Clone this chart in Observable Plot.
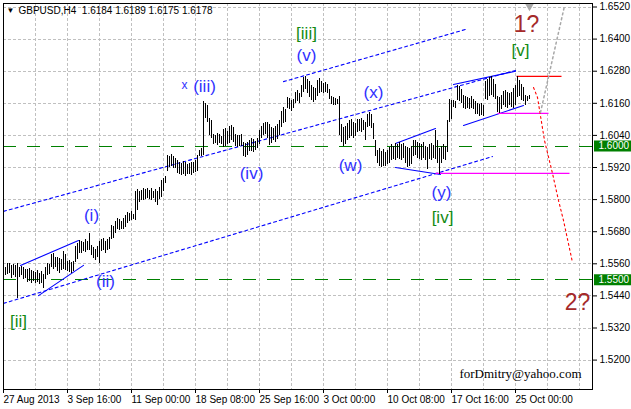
<!DOCTYPE html>
<html><head><meta charset="utf-8">
<script src="https://cdn.jsdelivr.net/npm/d3@7"></script>
<script src="https://cdn.jsdelivr.net/npm/@observablehq/plot@0.6"></script>
<style>body{margin:0;background:#fff}</style>
</head><body><div id="chart"></div>
<script>
// H4 bars, left to right (one entry per bar)
const highs = [
1.5548,1.5560,1.5562,1.5555,1.5558,1.5552,1.5560,1.5545,
1.5550,1.5546,1.5540,1.5538,1.5542,1.5535,1.5530,
1.5528,1.5535,1.5525,1.5530,1.5520,
1.5545,1.5561,1.5558,1.5595,1.5598,1.5585,1.5583,1.5580,1.5575,
1.5605,1.5595,1.5570,1.5572,1.5565,1.5568,
1.5625,1.5635,1.5648,1.5645,1.5640,1.5650,1.5642,1.5673,
1.5630,1.5620,1.5615,1.5625,1.5645,
1.5650,1.5655,1.5645,1.5650,1.5660,
1.5705,1.5700,1.5720,1.5730,1.5725,1.5720,1.5728,1.5740,
1.5750,1.5748,1.5755,1.5745,1.5832,1.5838,
1.5830,1.5835,1.5840,1.5838,1.5842,1.5835,1.5840,1.5832,1.5838,1.5830,1.5845,
1.5870,1.5880,1.5885,
1.5965,1.5962,1.5968,1.5960,1.5955,
1.5945,1.5940,1.5935,1.5942,1.5938,1.5930,1.5935,1.5940,1.5938,1.5945,
1.5965,1.5985,1.5990,1.6167,
1.6160,1.6150,1.6105,1.6095,
1.6045,1.6040,1.6048,1.6042,1.6035,
1.6062,1.6065,1.6055,1.6075,1.6078,1.6068,
1.6045,1.6040,1.6038,1.6042,
1.6012,1.6008,1.6015,
1.6020,1.6028,1.6025,1.6018,1.6030,
1.6060,1.6075,1.6085,1.6090,1.6088,
1.6080,1.6070,1.6065,1.6072,1.6080,1.6095,
1.6130,1.6145,1.6135,
1.6182,1.6178,1.6170,1.6175,
1.6200,1.6208,1.6195,1.6225,
1.6255,1.6262,1.6250,
1.6240,1.6228,1.6220,1.6215,
1.6245,1.6252,1.6240,
1.6235,1.6238,1.6232,
1.6210,1.6185,1.6180,1.6178,1.6175,
1.6185,1.6080,1.6070,1.6075,1.6085,
1.6095,1.6100,1.6090,1.6085,
1.6100,1.6098,1.6103,1.6095,1.6088,
1.6120,1.6125,1.6118,1.6085,1.6020,
1.5985,1.5990,1.5980,1.5988,1.5975,1.5985,1.5995,
1.6005,1.6000,1.6010,1.6005,1.6015,
1.6005,1.6010,
1.6000,1.5995,1.5990,1.5998,
1.6020,1.6022,1.6015,
1.6010,1.6005,1.6012,1.6000,1.5995,
1.6005,1.6010,1.6002,1.6058,1.6020,1.5990,
1.6000,1.6005,1.6000,1.6095,1.6175,1.6170,
1.6172,1.6165,1.6225,1.6222,1.6210,
1.6190,1.6185,1.6180,1.6178,1.6185,1.6175,
1.6165,1.6160,1.6155,1.6160,1.6150,
1.6240,1.6248,1.6255,1.6260,1.6250,1.6230,
1.6185,1.6180,1.6190,
1.6205,1.6208,1.6200,1.6195,1.6200,
1.6215,1.6225,1.6262,1.6245,1.6230,1.6220,1.6190,1.6185,1.6189
];
const lows = [
1.5515,1.5520,1.5525,1.5505,1.5518,1.5510,1.5430,1.5508,
1.5515,1.5500,1.5505,1.5490,1.5495,1.5488,1.5492,
1.5485,1.5490,1.5482,1.5488,1.5468,
1.5500,1.5515,1.5520,1.5548,1.5540,1.5545,1.5530,1.5525,1.5535,
1.5540,1.5535,1.5530,1.5528,1.5525,1.5530,
1.5565,1.5575,1.5600,1.5598,1.5605,1.5602,1.5610,1.5610,
1.5590,1.5578,1.5572,1.5585,1.5560,
1.5605,1.5610,1.5600,1.5608,1.5615,
1.5650,1.5655,1.5675,1.5690,1.5685,1.5688,1.5690,1.5695,
1.5710,1.5720,1.5722,1.5725,1.5722,1.5760,
1.5790,1.5798,1.5795,1.5800,1.5805,1.5800,1.5798,1.5805,1.5790,1.5778,1.5800,
1.5808,1.5830,1.5860,
1.5905,1.5920,1.5925,1.5918,1.5915,
1.5898,1.5892,1.5890,1.5895,1.5888,1.5892,1.5895,1.5890,1.5898,1.5900,
1.5905,1.5960,1.5962,1.5965,
1.6105,1.6090,1.6040,1.6030,
1.6005,1.6010,1.6002,1.6008,1.6005,
1.5995,1.6000,1.6005,1.6010,1.6020,1.6015,
1.6000,1.5995,1.6000,1.5998,
1.5960,1.5958,1.5965,
1.5978,1.5980,1.5975,1.5985,1.5990,
1.6005,1.6030,1.6040,1.6045,1.6030,
1.6002,1.6010,1.6020,1.6015,1.6025,1.6040,
1.6070,1.6085,1.6090,
1.6140,1.6135,1.6130,1.6140,
1.6160,1.6165,1.6158,1.6180,
1.6200,1.6210,1.6195,
1.6180,1.6170,1.6163,1.6170,
1.6185,1.6195,1.6200,
1.6198,1.6200,1.6195,
1.6175,1.6155,1.6150,1.6152,1.6155,
1.6040,1.6015,1.6000,1.6005,1.6020,
1.6030,1.6035,1.6028,1.6035,
1.6050,1.6055,1.6052,1.6058,1.6020,
1.6070,1.6075,1.6065,1.6025,1.5962,
1.5935,1.5925,1.5920,1.5925,1.5922,1.5930,1.5935,
1.5945,1.5950,1.5945,1.5955,1.5950,
1.5948,1.5955,
1.5935,1.5920,1.5925,1.5930,
1.5960,1.5965,1.5955,
1.5950,1.5948,1.5955,1.5945,1.5912,
1.5950,1.5945,1.5955,1.5950,1.5935,1.5895,
1.5935,1.5950,1.5945,1.5975,1.6090,1.6100,
1.6145,1.6140,1.6170,1.6165,1.6160,
1.6140,1.6135,1.6140,1.6138,1.6142,1.6135,
1.6120,1.6118,1.6112,1.6115,1.6110,
1.6175,1.6170,1.6185,1.6190,1.6180,1.6175,
1.6125,1.6122,1.6135,
1.6150,1.6145,1.6140,1.6150,1.6145,
1.6140,1.6150,1.6180,1.6185,1.6170,1.6165,1.6152,1.6165,1.6175
];

const titleText = "GBPUSD,H4  1.6184 1.6189 1.6175 1.6178";
const watermark = "forDmitry@yahoo.com";
const priceTicks = [1.5200,1.5320,1.5440,1.5560,1.5680,1.5800,1.5920,1.6040,1.6160,1.6280,1.6400,1.6520];
const dateLabels = ["27 Aug 2013","3 Sep 16:00","11 Sep 00:00","18 Sep 08:00","25 Sep 16:00","3 Oct 00:00","10 Oct 08:00","17 Oct 16:00","25 Oct 00:00"];
const dateBars = [-1,31,63,95,127,159,191,223,255];
const levels = [1.6000, 1.5500];

// wave labels
const waveText  = ["x","(iii)","[iii]","(v)","(x)","(w)","(iv)","(i)","(ii)","[ii]","(y)","[iv]","[v]","1?","2?"];
const waveBar   = [89.5,99.5,150.5,150.5,184,172.5,123,43,50,6.5,218,218.5,257.5,260.5,286];
const wavePrice = [1.6227,1.6223,1.6421,1.6339,1.6200,1.5927,1.5898,1.5741,1.5494,1.5344,1.5827,1.5733,1.6357,1.6455,1.5415];
const waveKind  = ["minor","minor","major","minor","minor","minor","minor","minor","minor","major","minor","major","major","alt","alt"];

// blue dotted channel lines: [bar1, price1, bar2, price2]
const dottedLines = [
  [139, 1.6241, 230, 1.6436],
  [-1, 1.5756, 255, 1.6283],
  [-1, 1.5412, 243.5, 1.5961]
];
// blue solid lines
const solidLines = [
  [7.5, 1.5554, 36.5, 1.5647],
  [16.5, 1.5441, 39, 1.5554],
  [195, 1.6010, 215, 1.6066],
  [195, 1.5920, 217.5, 1.5894],
  [224, 1.6230, 255, 1.6280],
  [229, 1.6077, 259, 1.6152]
];
// horizontal level segments: [bar1, bar2, price]
const redSegments = [[255.5, 278, 1.6261]];
const magentaSegments = [[246, 271.5, 1.6122], [215, 282, 1.5898]];
// forecast path (red dotted)
const forecastBar = [264, 266, 269.5, 273.5, 276.5, 279, 283.5];
const forecastPrice = [1.6219, 1.6182, 1.6021, 1.5898, 1.5797, 1.5722, 1.5565];
// alternative path (grey dotted)
const altBar = [267.5, 279.5];
const altPrice = [1.6126, 1.6524];

const bars = highs.map((h, i) => ({i, high: h, low: lows[i]}));
const waves = waveText.map((t, k) => ({text: t, bar: waveBar[k], price: wavePrice[k], kind: waveKind[k]}));
const toLine = (arr) => arr.flatMap((d, k) => [{k, bar: d[0], price: d[1]}, {k, bar: d[2], price: d[3]}]);
const toSeg = (arr) => arr.map(d => ({x1: d[0], x2: d[1], y: d[2]}));
const forecast = forecastBar.map((b, k) => ({bar: b, price: forecastPrice[k]}));
const alt = altBar.map((b, k) => ({bar: b, price: altPrice[k]}));
const labelMap = new Map(dateBars.map((b, k) => [b, dateLabels[k]]));
const gridBars = d3.range(15, 292, 16);

const colors = {minor: "#3030ff", major: "#138a13", alt: "#a52a2a"};
const sizes = {minor: 17, major: 17, alt: 23};

const chart = Plot.plot({
  width: 631, height: 409,
  marginLeft: 3, marginRight: 39, marginTop: 3, marginBottom: 20,
  style: {fontFamily: "'Liberation Sans', Arial, sans-serif", fontSize: "10px", background: "#fff", overflow: "visible"},
  x: {domain: [-1, 293.5], axis: null},
  y: {domain: [1.50901, 1.65331], axis: null},
  marks: [
    Plot.gridY(priceTicks, {stroke: "#c0c0c0", strokeOpacity: 1, strokeDasharray: "3,2", shapeRendering: "crispEdges"}),
    Plot.gridX(gridBars, {stroke: "#c0c0c0", strokeOpacity: 1, strokeDasharray: "3,2", shapeRendering: "crispEdges"}),
    Plot.ruleY(levels, {stroke: "#008000", strokeDasharray: "13,11", shapeRendering: "crispEdges"}),
    Plot.line(toLine(dottedLines), {x: "bar", y: "price", z: "k", stroke: "#0000ff", strokeDasharray: "3,3", strokeWidth: 1.1}),
    Plot.line(toLine(solidLines), {x: "bar", y: "price", z: "k", stroke: "#0000ff", strokeWidth: 1.1}),
    Plot.link(toSeg(redSegments), {x1: "x1", x2: "x2", y1: "y", y2: "y", stroke: "#ff0000", strokeWidth: 1.2}),
    Plot.link(toSeg(magentaSegments), {x1: "x1", x2: "x2", y1: "y", y2: "y", stroke: "#ff00ff", strokeWidth: 1.2}),
    Plot.ruleX(bars, {x: "i", y1: "low", y2: "high", stroke: "#000", strokeWidth: 1, shapeRendering: "crispEdges"}),
    Plot.line(forecast, {x: "bar", y: "price", stroke: "#ff0000", strokeDasharray: "2,3", strokeWidth: 1.1}),
    Plot.line(alt, {x: "bar", y: "price", stroke: "#a8a8a8", strokeDasharray: "2,3"}),
    Plot.text(waves, {x: "bar", y: "price", text: "text", fill: d => colors[d.kind], fontSize: d => d.text === "x" ? 12 : sizes[d.kind]}),
    Plot.dot([{bar: 262, price: 1.6523}], {x: "bar", y: "price", symbol: "triangle", rotate: 180, r: 3.2, fill: "#a8a8a8", stroke: "none"}),
    Plot.frame({stroke: "#000", shapeRendering: "crispEdges"}),
    Plot.axisY({anchor: "right", ticks: priceTicks, tickFormat: d3.format(".4f"), tickSize: 4, tickPadding: 3, label: null, fontSize: 10, color: "#000"}),
    Plot.axisX({anchor: "bottom", ticks: dateBars, tickFormat: d => labelMap.get(d), tickSize: 4, tickPadding: 2, textAnchor: "start", label: null, fontSize: 10, color: "#000"}),
    Plot.ruleY(levels, {x1: 294.5, x2: 313, stroke: "#008000", strokeWidth: 11}),
    Plot.text(levels, {x: 296.5, y: d => d, text: d3.format(".4f"), textAnchor: "start", fill: "#fff", fontSize: 10}),
    Plot.text([titleText], {frameAnchor: "top-left", dx: 15, dy: 3, lineAnchor: "top", textAnchor: "start", fill: "#000", fontSize: 10}),
    Plot.text(["▼"], {frameAnchor: "top-left", dx: 3, dy: 4, lineAnchor: "top", textAnchor: "start", fill: "#000", fontSize: 8}),
    Plot.text([watermark], {frameAnchor: "bottom-right", dx: -11, dy: -12, lineAnchor: "bottom", textAnchor: "end", fill: "#000", fontSize: 13, fontFamily: "'Liberation Serif', 'Times New Roman', serif"})
  ]
});
document.getElementById("chart").appendChild(chart);
</script>
</body></html>
